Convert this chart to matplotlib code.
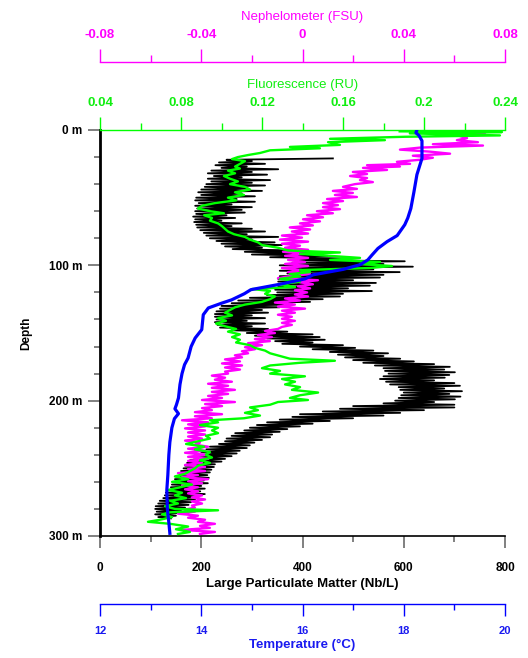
import matplotlib
matplotlib.use('Agg')
import matplotlib.pyplot as plt
import numpy as np
from matplotlib.ticker import FixedLocator

plt.rcParams['font.family'] = ['Liberation Sans', 'DejaVu Sans']

# ---------------- data ----------------
depth_ticks = [0, 100, 200, 300]
depth_labels = ['0 m', '100 m', '200 m', '300 m']
lpm_ticks = [0, 200, 400, 600, 800]
lpm_labels = ['0', '200', '400', '600', '800']
temp_ticks = [12, 14, 16, 18, 20]
temp_labels = ['12', '14', '16', '18', '20']
fluo_ticks = [0.04, 0.08, 0.12, 0.16, 0.20, 0.24]
fluo_labels = ['0.04', '0.08', '0.12', '0.16', '0.2', '0.24']
neph_ticks = [-0.08, -0.04, 0, 0.04, 0.08]
neph_labels = ['-0.08', '-0.04', '0', '0.04', '0.08']

# Large particulate matter (Nb/L), one sample per metre from 21 m to 287 m
lpm_depth = np.arange(21, 288, 1)
lpm_value = [
    460, 250, 300, 235, 326, 228, 290, 240, 352, 220,
    300, 213, 330, 225, 280, 213, 336, 220, 300, 210,
    326, 207, 290, 200, 320, 194, 280, 200, 306, 190,
    270, 188, 306, 195, 260, 188, 300, 192, 280, 188,
    286, 190, 250, 184, 267, 188, 240, 186, 280, 190,
    260, 192, 300, 198, 326, 205, 290, 210, 352, 217,
    300, 230, 345, 240, 359, 247, 320, 262, 380, 286,
    411, 300, 450, 336, 494, 379, 602, 380, 560, 355,
    618, 360, 540, 355, 592, 370, 560, 355, 553, 352,
    500, 352, 545, 360, 533, 352, 490, 346, 537, 350,
    480, 330, 474, 296, 440, 273, 415, 260, 380, 240,
    355, 237, 320, 230, 332, 227, 300, 227, 326, 230,
    290, 227, 326, 232, 300, 237, 332, 260, 370, 290,
    420, 306, 434, 330, 444, 346, 420, 360, 480, 395,
    504, 420, 540, 454, 569, 470, 560, 484, 593, 500,
    620, 520, 660, 543, 691, 560, 680, 563, 701, 570,
    690, 560, 681, 553, 660, 565, 700, 573, 711, 590,
    680, 593, 715, 600, 690, 595, 712, 590, 701, 583,
    660, 560, 700, 500, 700, 474, 640, 440, 593, 395,
    560, 380, 500, 355, 454, 330, 420, 310, 395, 296,
    370, 285, 355, 267, 340, 260, 336, 250, 320, 247,
    305, 235, 296, 217, 290, 210, 276, 200, 270, 197,
    260, 185, 247, 178, 240, 172, 227, 168, 225, 165,
    220, 160, 217, 158, 212, 150, 215, 148, 205, 145,
    213, 142, 200, 140, 207, 135, 198, 130, 207, 128,
    195, 125, 188, 118, 180, 115, 175, 110, 168, 109,
    160, 112, 158, 109, 150, 115, 140,
]

# Fluorescence (RU)
fluo_depth = [
    1.0, 1.5, 2.5, 4, 5, 6.5, 7.5, 9, 11, 12.5, 13.5, 15, 17, 18.5, 20, 21.5, 23, 25, 27, 28.5,
    30, 32, 34, 36, 38, 40, 42, 44, 46, 48, 50, 52, 54, 56, 58, 60, 61.5, 63, 65, 67,
    69, 71, 73, 75, 77, 79, 81, 83, 85, 87, 89, 90.5, 91.5, 93, 94.5, 96, 97.5, 99, 100.5, 102,
    103.5, 105, 106.5, 108, 110, 112, 114, 116, 117.5, 119, 121, 123, 125, 127, 129, 131, 133, 135, 137, 139,
    141, 143, 145, 147, 149, 151, 153, 155, 157, 159, 161, 163, 165, 167, 169, 170.5, 172, 174, 176, 178,
    180, 182, 184, 186, 188, 190, 192, 194, 196, 198, 199.5, 201, 203, 205, 207, 209, 211, 213, 214.5, 216,
    218, 220, 222, 224, 226, 228, 230, 232, 234, 236, 238, 240, 242, 244, 246, 248, 250, 252, 254, 256,
    258, 260, 262, 264, 266, 268, 270, 272, 274, 276, 278, 280, 281, 282.5, 284, 286, 288, 289.5, 291, 293,
    295, 297, 298.5,
]
fluo_value = [
    0.188, 0.2385, 0.193, 0.2375, 0.1906, 0.1536, 0.1807, 0.1526, 0.1585, 0.1338, 0.1486, 0.124, 0.119, 0.1131, 0.1081, 0.1052, 0.1116, 0.1091, 0.1067, 0.1091,
    0.1032, 0.1067, 0.1012, 0.1042, 0.1081, 0.1042, 0.1116, 0.1141, 0.1067, 0.1111, 0.1032, 0.1072, 0.0968, 0.0904, 0.0884, 0.0943, 0.1012, 0.0914, 0.0953, 0.0943,
    0.0983, 0.1002, 0.1017, 0.1032, 0.1062, 0.1116, 0.1141, 0.1180, 0.1200, 0.1279, 0.1328, 0.1585, 0.1388, 0.1536, 0.1684, 0.1536, 0.1783, 0.1684, 0.1842, 0.1733,
    0.1388, 0.1437, 0.1338, 0.1388, 0.1289, 0.1388, 0.1289, 0.1363, 0.1151, 0.124, 0.1215, 0.1264, 0.124, 0.120, 0.1116, 0.1067, 0.1042, 0.1017, 0.1052, 0.0983,
    0.1022, 0.0973, 0.1017, 0.1072, 0.1032, 0.1091, 0.1052, 0.1091, 0.1072, 0.1141, 0.1165, 0.1215, 0.124, 0.1289, 0.1338, 0.156, 0.1388, 0.124, 0.120, 0.1289,
    0.124, 0.1412, 0.1299, 0.1363, 0.1314, 0.1388, 0.1348, 0.1477, 0.1388, 0.1338, 0.1427, 0.1279, 0.124, 0.1141, 0.118, 0.1116, 0.119, 0.1111, 0.0943, 0.0983,
    0.0894, 0.0983, 0.0953, 0.0983, 0.0923, 0.0943, 0.0884, 0.0825, 0.0914, 0.0869, 0.0943, 0.0923, 0.0953, 0.0894, 0.0943, 0.0884, 0.0869, 0.0844, 0.082, 0.077,
    0.0835, 0.0756, 0.0854, 0.0795, 0.0736, 0.0805, 0.077, 0.0825, 0.0746, 0.0785, 0.0721, 0.077, 0.0983, 0.0746, 0.0706, 0.0756, 0.0696, 0.0637, 0.0746, 0.0835,
    0.0775, 0.0844, 0.0785,
]

# Nephelometer (FSU)
neph_depth = [
    1.5, 3, 4.5, 6, 7.5, 9, 10.5, 11.5, 13, 14.5, 16, 17.5, 19, 20.5, 22, 23.5, 25, 26, 27, 28,
    29.5, 31, 32.5, 34, 35.5, 37, 38.5, 40,
    42, 43.5, 45, 46.5, 48, 49.5, 51, 52.5, 54, 55.5, 57, 58.5, 60, 61.5, 63, 64.5, 66, 67.5, 69, 70.5, 72, 73.5,
    75, 76.5, 78, 79.5, 81, 82.5, 84, 85.5, 87, 88.5, 90, 91.5, 93, 94.5, 96, 97.5, 99, 100.5, 102, 103.5,
    105, 106.5, 108, 109.5, 111, 112.5, 114, 115.5, 117, 118.5, 120, 121.5, 123, 124.5, 126, 127.5, 129, 130.5, 132, 133.5,
    135, 136.5, 138, 139.5, 141, 142.5, 144, 145.5, 147, 148.5, 150, 151.5, 153, 154.5, 156, 157.5, 159, 160.5, 162, 163.5,
    165, 166.5, 168, 169.5, 171, 172.5, 174, 175.5, 177, 178.5, 180, 181.5, 183, 184.5, 186, 187.5, 189, 190.5, 192, 193.5,
    195, 196.5, 198, 199.5, 201, 202.5, 204, 205.5, 207, 208.5, 210, 211.5, 213, 214.5, 216, 217.5, 219, 220.5, 222, 223.5,
    225, 226.5, 228, 229.5, 231, 232.5, 234, 235.5, 237, 238.5, 240, 241.5, 243, 244.5, 246, 247.5, 249, 250.5, 252, 253.5,
    255, 256.5, 258, 259.5, 261, 262.5, 264, 265.5, 267, 268.5, 270, 271.5, 273, 274.5, 276, 277.5, 279, 280.5, 282, 283.5,
    285, 286.5, 288, 289.5, 291, 292.5, 294, 295.5, 297, 298.5,
]
neph_value = [
    0.0662, 0.0721, 0.0622, 0.0650, 0.0610, 0.0693, 0.0515, 0.0713, 0.0464, 0.0385, 0.0504, 0.0583, 0.0436, 0.0515, 0.0464, 0.0373, 0.0425, 0.0255, 0.0385, 0.0239,
    0.0334, 0.0199, 0.0255, 0.0188, 0.0255, 0.0227, 0.0278, 0.0207,
    0.0160, 0.0215, 0.0120, 0.0199, 0.0128, 0.0215, 0.0097, 0.0160, 0.0081, 0.0140, 0.0081, 0.0148, 0.0057, 0.0120, 0.0018, 0.0081, 0.0002, 0.0069, -0.0010, 0.0041, -0.0050, 0.0030,
    -0.0042, 0.0022, -0.0081, -0.0002, -0.0089, 0.0022, -0.0081, -0.0010, -0.0069, 0.0022, -0.0077, 0.0010, -0.0069, 0.0022, -0.0057, 0.0010, -0.0069, 0.0022, -0.0081, -0.0002,
    -0.0057, 0.0030, -0.0050, -0.0097, 0.0061, -0.0010, 0.0041, -0.0018, 0.0030, -0.0030, 0.0018, -0.0030, 0.0022, -0.0069, -0.0010, -0.0109, -0.0030, -0.0097, 0.0010, -0.0081,
    -0.0030, -0.0097, -0.0042, -0.0081, -0.0030, -0.0081, -0.0042, -0.0081, -0.0097, -0.0148, -0.0109, -0.0176, -0.0121, -0.0188, -0.0129, -0.0215, -0.0160, -0.0227, -0.0188, -0.0239,
    -0.0215, -0.0267, -0.0239, -0.0306, -0.0247, -0.0318, -0.0239, -0.0306, -0.0247, -0.0306, -0.0294, -0.0358, -0.0306, -0.0346, -0.0279, -0.0373, -0.0294, -0.0358, -0.0267, -0.0358,
    -0.0294, -0.0373, -0.0318, -0.0397, -0.0267, -0.0385, -0.0318, -0.0397, -0.0358, -0.0425, -0.0318, -0.0425, -0.0358, -0.0476, -0.0373, -0.0452, -0.0385, -0.0464, -0.0385, -0.0452,
    -0.0385, -0.0452, -0.0397, -0.0464, -0.0405, -0.0425, -0.0373, -0.0452, -0.0385, -0.0464, -0.0385, -0.0452, -0.0373, -0.0452, -0.0397, -0.0464, -0.0385, -0.0452, -0.0385, -0.0492,
    -0.0413, -0.0476, -0.0373, -0.0452, -0.0397, -0.0476, -0.0413, -0.0464, -0.0413, -0.0452, -0.0397, -0.0437, -0.0385, -0.0437, -0.0397, -0.0437, -0.0425, -0.0464, -0.0425, -0.0492,
    -0.0413, -0.0452, -0.0385, -0.0413, -0.0346, -0.0405, -0.0366, -0.0476, -0.0346, -0.0405,
]

# Temperature (deg C)
temp_depth = [0, 2, 4, 8, 21, 33, 46, 58, 65, 70, 78, 82.5, 87.5, 92.5, 96, 99.5, 103, 107, 110, 114,
              117, 118, 121, 125.5, 128, 131.5, 136.5, 147.5, 153.7, 160, 168.5, 173.4, 180, 188, 198, 203,
              206, 209.6, 213.3, 220, 230.6, 240, 255, 266, 280, 290, 298]
temp_value = [18.26, 18.24, 18.30, 18.36, 18.36, 18.26, 18.20, 18.14, 18.08, 18.02, 17.87, 17.67, 17.49, 17.37,
              17.29, 17.14, 16.80, 16.21, 16.05, 15.55, 15.12, 14.98, 14.85, 14.60, 14.40, 14.14, 14.04, 14.01,
              13.88, 13.80, 13.74, 13.67, 13.62, 13.58, 13.55, 13.51, 13.48, 13.55, 13.47, 13.42, 13.38, 13.36,
              13.34, 13.32, 13.33, 13.36, 13.38]

# ---------------- styling ----------------
BLACK = '#000000'
GREEN = '#00FF00'
GREEN_TXT = '#11EE11'
MAGENTA = '#FF00FF'
BLUE = '#0000FF'
BLUE_TXT = '#1A1AF0'
GRAY = '#808080'

fig = plt.figure(figsize=(5.28, 6.58), dpi=100)
ax = fig.add_axes([100 / 528, 1 - 536 / 658, 405 / 528, 406 / 658])
ax.set_xlim(0, 800)
ax.set_ylim(300, 0)

ax_t = ax.twiny()
ax_n = ax.twiny()
ax_f = ax.twiny()
ax_t.set_xlim(12, 20)
ax_n.set_xlim(-0.08, 0.08)
ax_f.set_xlim(0.04, 0.24)

for a in (ax, ax_t, ax_n, ax_f):
    for s in a.spines.values():
        s.set_visible(False)

# main axes
ax.spines['left'].set_visible(True)
ax.spines['left'].set_linewidth(2.0)
ax.spines['left'].set_color(BLACK)
ax.spines['bottom'].set_visible(True)
ax.spines['bottom'].set_linewidth(1.2)
ax.spines['bottom'].set_color(BLACK)

ax.yaxis.set_major_locator(FixedLocator(depth_ticks))
ax.set_yticklabels(depth_labels)
ax.yaxis.set_minor_locator(FixedLocator([20, 40, 60, 80, 120, 140, 160, 180, 220, 240, 260, 280]))
ax.xaxis.set_major_locator(FixedLocator(lpm_ticks))
ax.set_xticklabels(lpm_labels)
ax.xaxis.set_minor_locator(FixedLocator([100, 300, 500, 700]))
ax.tick_params(axis='both', which='major', length=8.6, width=1.4, color=GRAY,
               labelsize=8.5, pad=4)
ax.tick_params(axis='both', which='minor', length=4.3, width=1.4, color=GRAY)
ax.tick_params(axis='x', which='major', pad=10)
for lab in ax.get_xticklabels() + ax.get_yticklabels():
    lab.set_fontweight('bold')
ax.set_xlabel('Large Particulate Matter (Nb/L)', fontsize=9.5, fontweight='bold', labelpad=3)
ax.set_ylabel('Depth', fontsize=8.5, fontweight='bold', labelpad=12)

# temperature axis (bottom, offset)
ax_t.xaxis.set_ticks_position('bottom')
ax_t.xaxis.set_label_position('bottom')
ax_t.spines['bottom'].set_visible(True)
ax_t.spines['bottom'].set_position(('outward', 49))
ax_t.spines['bottom'].set_color(BLUE)
ax_t.spines['bottom'].set_linewidth(1.0)
ax_t.xaxis.set_major_locator(FixedLocator(temp_ticks))
ax_t.set_xticklabels(temp_labels)
ax_t.xaxis.set_minor_locator(FixedLocator([13, 15, 17, 19]))
ax_t.tick_params(axis='x', which='major', length=8.6, width=1.0, color=BLUE,
                 labelcolor=BLUE_TXT, labelsize=8, pad=7)
ax_t.tick_params(axis='x', which='minor', length=4.3, width=1.0, color=BLUE)
for lab in ax_t.get_xticklabels():
    lab.set_fontweight('bold')
ax_t.set_xlabel('Temperature (\u00b0C)', fontsize=9.5, fontweight='bold', color=BLUE_TXT, labelpad=2)

# nephelometer axis (top, offset)
ax_n.spines['top'].set_visible(True)
ax_n.spines['top'].set_position(('outward', 49))
ax_n.spines['top'].set_color(MAGENTA)
ax_n.spines['top'].set_linewidth(1.0)
ax_n.xaxis.set_major_locator(FixedLocator(neph_ticks))
ax_n.set_xticklabels(neph_labels)
ax_n.xaxis.set_minor_locator(FixedLocator([-0.06, -0.02, 0.02, 0.06]))
ax_n.tick_params(axis='x', which='major', length=9.4, width=1.0, color=MAGENTA,
                 labelcolor=MAGENTA, labelsize=9.5, pad=6)
ax_n.tick_params(axis='x', which='minor', length=5, width=1.0, color=MAGENTA)
for lab in ax_n.get_xticklabels():
    lab.set_fontweight('bold')
ax_n.set_xlabel('Nephelometer (FSU)', fontsize=9.5, color=MAGENTA, labelpad=6)

# fluorescence axis (top of plot)
ax_f.spines['top'].set_visible(True)
ax_f.spines['top'].set_color(GREEN)
ax_f.spines['top'].set_linewidth(1.0)
ax_f.xaxis.set_major_locator(FixedLocator(fluo_ticks))
ax_f.set_xticklabels(fluo_labels)
ax_f.xaxis.set_minor_locator(FixedLocator([0.06, 0.10, 0.14, 0.18, 0.22]))
ax_f.tick_params(axis='x', which='major', length=9.4, width=1.0, color=GREEN,
                 labelcolor=GREEN_TXT, labelsize=9.5, pad=6)
ax_f.tick_params(axis='x', which='minor', length=5, width=1.0, color=GREEN)
for lab in ax_f.get_xticklabels():
    lab.set_fontweight('bold')
ax_f.set_xlabel('Fluorescence (RU)', fontsize=9.5, color=GREEN_TXT, labelpad=6)

# ---------------- data lines ----------------
ax.plot(lpm_value, lpm_depth, color=BLACK, lw=1.3, zorder=2)
ax_n.plot(neph_value, neph_depth, color=MAGENTA, lw=1.7, zorder=3)
ax_f.plot(fluo_value, fluo_depth, color=GREEN, lw=1.7, zorder=4)
ax_t.plot(temp_value, temp_depth, color=BLUE, lw=2.3, zorder=5)

ax_t.set_zorder(ax_f.get_zorder() + 1)
ax_t.patch.set_visible(False)
for a in (ax_t, ax_n, ax_f):
    a.set_ylim(300, 0)

fig.savefig('out.png', dpi=100)
